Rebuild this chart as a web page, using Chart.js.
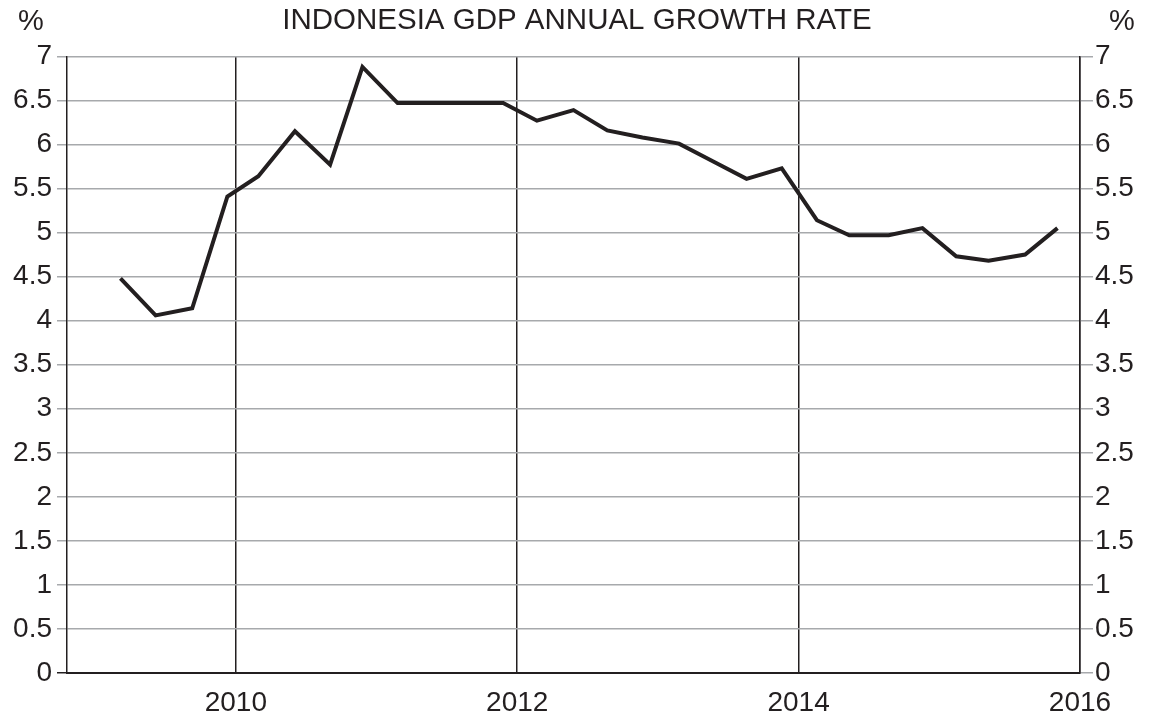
<!DOCTYPE html>
<html>
<head>
<meta charset="utf-8">
<script src="https://cdn.jsdelivr.net/npm/chart.js@4/dist/chart.umd.min.js"></script>
<style>
  body { margin: 0; background: #fff; }
</style>
</head>
<body>
<canvas id="line-chart" width="1154" height="718"></canvas>
<script>
const quarterX = [
  2009.18, 2009.43, 2009.69, 2009.94,
  2010.16, 2010.42, 2010.67, 2010.90,
  2011.15, 2011.40, 2011.65, 2011.90,
  2012.14, 2012.40, 2012.64, 2012.89,
  2013.15, 2013.39, 2013.63, 2013.88,
  2014.13, 2014.36, 2014.64, 2014.88,
  2015.12, 2015.35, 2015.61, 2015.84,
];
const growth = [
  4.48, 4.06, 4.14, 5.41,
  5.64, 6.15, 5.77, 6.88,
  6.47, 6.47, 6.47, 6.47,
  6.27, 6.39, 6.16, 6.08,
  6.01, 5.81, 5.61, 5.73,
  5.14, 4.97, 4.97, 5.05,
  4.73, 4.68, 4.75, 5.05,
];
const yearTicks = [2010, 2012, 2014, 2016];

const ink = "#231f20";
const gridGray = "#a7a9ac";
const font = { family: "'Liberation Sans', Arial, sans-serif", size: 28 };
const fmt = (v) => String(Number(Number(v).toFixed(1)));

const percentLabels = {
  id: "percentLabels",
  afterDraw(chart) {
    const { ctx, chartArea } = chart;
    ctx.save();
    ctx.font = "29px 'Liberation Sans', Arial, sans-serif";
    ctx.fillStyle = ink;
    ctx.textAlign = "center";
    ctx.textBaseline = "middle";
    ctx.fillText("%", chartArea.left - 36, 22);
    ctx.fillText("%", chartArea.right + 42, 22);
    ctx.restore();
  },
};

new Chart(document.getElementById("line-chart"), {
  type: "line",
  data: {
    datasets: [
      {
        data: quarterX.map((x, i) => ({ x: x, y: growth[i] })),
        borderColor: ink,
        borderWidth: 4,
        pointRadius: 0,
        tension: 0,
        fill: false,
      },
    ],
  },
  options: {
    responsive: false,
    devicePixelRatio: 1,
    animation: false,
    layout: { padding: 0 },
    plugins: {
      legend: { display: false },
      tooltip: { enabled: false },
      title: {
        display: true,
        text: "INDONESIA GDP ANNUAL GROWTH RATE",
        color: ink,
        font: { family: font.family, size: 29.5, weight: "normal" },
        padding: { top: 3, bottom: 18 },
      },
    },
    scales: {
      x: {
        type: "linear",
        min: 2008.8,
        max: 2016,
        afterBuildTicks: (axis) => {
          axis.ticks = yearTicks.map((v) => ({ value: v }));
        },
        afterFit: (axis) => { axis.height = 45; },
        grid: { color: ink, lineWidth: 1.5, drawTicks: false },
        border: { color: ink, width: 2 },
        ticks: { color: ink, font: font, padding: 13, maxRotation: 0,
          callback: (v) => String(v) },
      },
      y: {
        position: "left",
        min: 0,
        max: 7,
        afterFit: (axis) => { axis.width = 67; },
        grid: {
          color: (c) => (c.tick && c.tick.value === 0 ? ink : gridGray),
          lineWidth: 1.5,
          tickLength: 10,
        },
        border: { color: ink, width: 1.5 },
        ticks: { stepSize: 0.5, color: ink, font: font, padding: 5, callback: fmt },
      },
      y2: {
        position: "right",
        min: 0,
        max: 7,
        afterFit: (axis) => { axis.width = 74; },
        grid: { drawOnChartArea: false, color: gridGray, lineWidth: 1.5, tickLength: 13 },
        border: { color: ink, width: 1.5 },
        ticks: { stepSize: 0.5, color: ink, font: font, padding: 2, callback: fmt },
      },
    },
  },
  plugins: [percentLabels],
});
</script>
</body>
</html>
